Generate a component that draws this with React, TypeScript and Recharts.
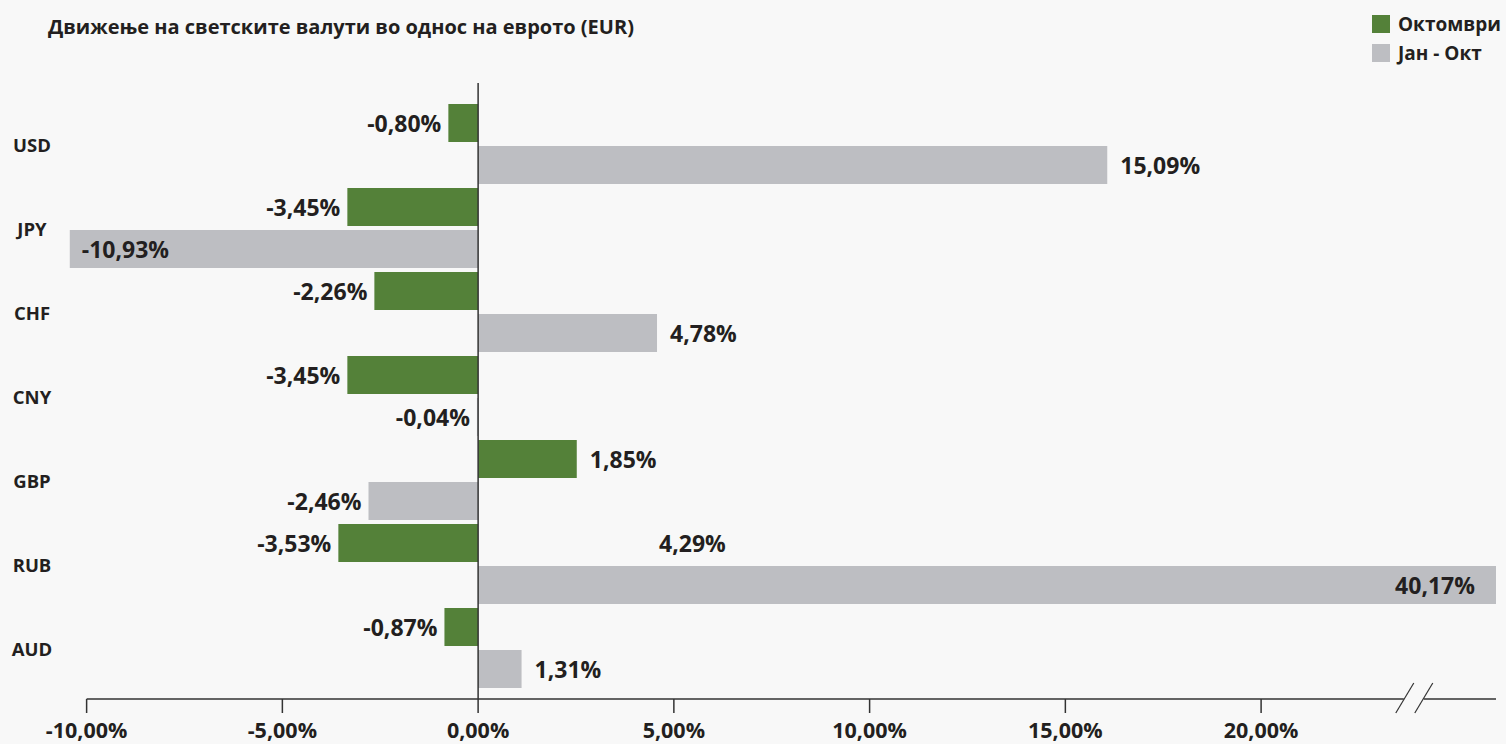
import React from 'react';
import { BarChart, Bar, XAxis, YAxis, ReferenceLine, LabelList, Legend } from 'recharts';

// ---------- data ----------
const categories = ['USD', 'JPY', 'CHF', 'CNY', 'GBP', 'RUB', 'AUD'];
const seriesNames = ['Октомври', 'Јан - Окт'];
// bar lengths as drawn in the picture (%)
const octoberValues = [-0.76, -3.34, -2.65, -3.34, 2.52, -3.57, -0.86];
const janOctValues = [16.07, -10.43, 4.57, -0.03, -2.8, 40.17, 1.11];
// labels as printed in the picture
const octoberLabels = ['-0,80%', '-3,45%', '-2,26%', '-3,45%', '1,85%', '-3,53%', '-0,87%'];
const janOctLabels = ['15,09%', '-10,93%', '4,78%', '-0,04%', '-2,46%', '40,17%', '1,31%'];
const octoberExtraValues: (number | null)[] = [null, null, null, null, null, 4.29, null];
const octoberExtraLabels = ['', '', '', '', '', '4,29%', ''];
const xTicks = [-10, -5, 0, 5, 10, 15, 20];
const xTickLabels = ['-10,00%', '-5,00%', '0,00%', '5,00%', '10,00%', '15,00%', '20,00%'];
const title = 'Движење на светските валути во однос на еврото (EUR)';

// ---------- styling / geometry ----------
const W = 1506;
const H = 744;
const GREEN = '#548139';
const GRAY = '#bdbec2';
const TEXT = '#231f20';
const AXIS = '#333333';
const BG = '#f8f8f8';
const FONT = '"Open Sans", "Noto Sans", sans-serif';
const MARGIN = { top: 83, right: 10, bottom: 0, left: 0 };
const Y_AXIS_WIDTH = 69;
const X_AXIS_HEIGHT = 45;
const DOMAIN_MIN = -10.45;
const DOMAIN_MAX = 26;
const BREAK_VALUE = 23.9;
const PLOT_LEFT = MARGIN.left + Y_AXIS_WIDTH;
const PLOT_RIGHT = W - MARGIN.right;
const PPU = (PLOT_RIGHT - PLOT_LEFT) / (DOMAIN_MAX - DOMAIN_MIN);

const data = categories.map((c, i) => ({
  name: c,
  oct: octoberValues[i],
  janOct: janOctValues[i],
}));

const labelStyle = {
  fontFamily: FONT,
  fontSize: 23,
  fontWeight: 700,
  fill: TEXT,
};

const tickStyle = {
  fontFamily: FONT,
  fontSize: 21.5,
  fontWeight: 700,
  fill: TEXT,
};

const approxTextWidth = (s: string) => s.length * 12;

const makeLabel = (
  values: number[],
  labels: string[],
  extraValues?: (number | null)[],
  extraLabels?: string[]
) => (props: any) => {
  const { x, y, width, height, index } = props;
  if (index == null) return null;
  const v = values[index];
  const text = labels[index];
  const x0 = Number(x);
  const w = Number(width);
  const left = Math.min(x0, x0 + w);
  const right = Math.max(x0, x0 + w);
  const cy = Number(y) + Number(height) / 2;
  const zeroX = v < 0 ? right : left;
  const plotL = zeroX + DOMAIN_MIN * PPU;
  const plotR = zeroX + DOMAIN_MAX * PPU;
  const items: React.ReactNode[] = [];
  if (v < 0) {
    if (left - 7 - approxTextWidth(text) < plotL) {
      items.push(
        <text key="l" x={left + 12} y={cy} textAnchor="start" dominantBaseline="central" {...labelStyle}>
          {text}
        </text>
      );
    } else {
      items.push(
        <text key="l" x={left - 7} y={cy} textAnchor="end" dominantBaseline="central" {...labelStyle}>
          {text}
        </text>
      );
    }
  } else {
    const visRight = Math.min(right, plotR);
    if (visRight + 12 + approxTextWidth(text) > plotR) {
      items.push(
        <text key="l" x={visRight - 21} y={cy} textAnchor="end" dominantBaseline="central" {...labelStyle}>
          {text}
        </text>
      );
    } else {
      items.push(
        <text key="l" x={visRight + 13} y={cy} textAnchor="start" dominantBaseline="central" {...labelStyle}>
          {text}
        </text>
      );
    }
  }
  if (extraValues && extraLabels && extraValues[index] != null) {
    items.push(
      <text
        key="e"
        x={zeroX + (extraValues[index] as number) * PPU + 13}
        y={cy}
        textAnchor="start"
        dominantBaseline="central"
        {...labelStyle}
      >
        {extraLabels[index]}
      </text>
    );
  }
  return <g>{items}</g>;
};

const XTick = (props: any) => {
  const { x, y, payload, index } = props;
  const tx = Number(x);
  const ty = Number(y);
  const idx = xTicks.indexOf(payload.value);
  const label = idx >= 0 ? xTickLabels[idx] : String(payload.value);
  const parts: React.ReactNode[] = [];
  if (index === 0) {
    const breakX = tx + (BREAK_VALUE - payload.value) * PPU;
    const endX = tx + (DOMAIN_MAX - payload.value) * PPU;
    parts.push(<line key="a1" x1={tx} y1={ty} x2={breakX - 10} y2={ty} stroke={AXIS} strokeWidth={1.5} />);
    parts.push(<line key="a2" x1={breakX + 10} y1={ty} x2={endX} y2={ty} stroke={AXIS} strokeWidth={1.5} />);
    parts.push(<line key="s1" x1={breakX - 18} y1={ty + 14} x2={breakX} y2={ty - 16} stroke={AXIS} strokeWidth={1.2} />);
    parts.push(<line key="s2" x1={breakX + 1} y1={ty + 14} x2={breakX + 19} y2={ty - 16} stroke={AXIS} strokeWidth={1.2} />);
  }
  parts.push(<line key="t" x1={tx} y1={ty} x2={tx} y2={ty + 14} stroke={AXIS} strokeWidth={1.5} />);
  parts.push(
    <text key="lb" x={tx} y={ty + 30} textAnchor="middle" dominantBaseline="central" {...tickStyle}>
      {label}
    </text>
  );
  return <g>{parts}</g>;
};

const YTick = (props: any) => {
  const { y, payload } = props;
  return (
    <text
      x={32}
      y={Number(y)}
      textAnchor="middle"
      dominantBaseline="central"
      fontFamily={FONT}
      fontSize={18.5}
      fontWeight={700}
      fill={TEXT}
    >
      {payload.value}
    </text>
  );
};

const LegendContent = (props: any) => {
  const payload = [...(props.payload || [])].sort(
    (a: any, b: any) => seriesNames.indexOf(a.value) - seriesNames.indexOf(b.value)
  );
  return (
    <div style={{ fontFamily: FONT }}>
      {payload.map((item: any, i: number) => (
        <div key={i} style={{ display: 'flex', alignItems: 'center', height: 29 }}>
          <span
            style={{
              display: 'inline-block',
              width: 18,
              height: 18,
              background: item.color,
              marginRight: 8,
            }}
          />
          <span style={{ fontSize: 19, fontWeight: 700, color: TEXT, whiteSpace: 'nowrap' }}>{item.value}</span>
        </div>
      ))}
    </div>
  );
};

export default function App() {
  return (
    <div
      style={{
        position: 'absolute',
        left: 0,
        top: 0,
        width: W,
        height: H,
        background: BG,
        overflow: 'hidden',
      }}
    >
      <div
        style={{
          position: 'absolute',
          left: 48,
          top: 12,
          fontFamily: FONT,
          fontSize: 20,
          fontWeight: 700,
          color: TEXT,
          whiteSpace: 'nowrap',
          lineHeight: '30px',
        }}
      >
        {title}
      </div>
      <BarChart
        width={W}
        height={H}
        data={data}
        layout="vertical"
        margin={MARGIN}
        barSize={38}
        barGap={4}
      >
        <XAxis
          type="number"
          domain={[DOMAIN_MIN, DOMAIN_MAX]}
          allowDataOverflow
          ticks={xTicks}
          interval={0}
          axisLine={false}
          tickLine={false}
          tickSize={0}
          tickMargin={0}
          height={X_AXIS_HEIGHT}
          tick={<XTick />}
        />
        <YAxis
          type="category"
          dataKey="name"
          width={Y_AXIS_WIDTH}
          axisLine={false}
          tickLine={false}
          padding={{ top: 19, bottom: 9 }}
          tick={<YTick />}
          interval={0}
        />
        <Legend
          layout="vertical"
          align="center"
          verticalAlign="middle"
          content={<LegendContent />}
          wrapperStyle={{ top: 9, left: 1372, width: 134 }}
        />
        <Bar dataKey="oct" name={seriesNames[0]} fill={GREEN} isAnimationActive={false}>
          <LabelList dataKey="oct" content={makeLabel(octoberValues, octoberLabels, octoberExtraValues, octoberExtraLabels)} />
        </Bar>
        <Bar dataKey="janOct" name={seriesNames[1]} fill={GRAY} isAnimationActive={false}>
          <LabelList dataKey="janOct" content={makeLabel(janOctValues, janOctLabels)} />
        </Bar>
        <ReferenceLine x={0} stroke={AXIS} strokeWidth={1.5} />
      </BarChart>
    </div>
  );
}
